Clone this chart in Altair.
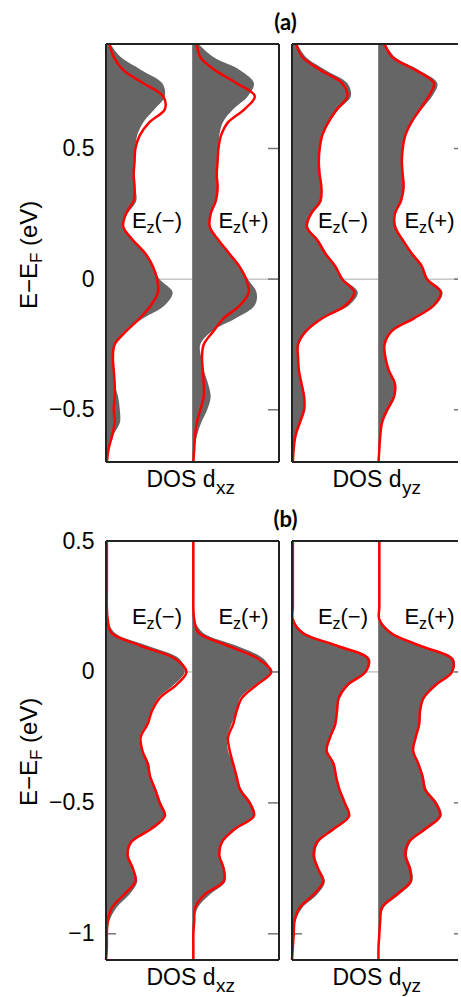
import altair as alt
import pandas as pd

FONT = "Liberation Sans"

# ---------------- energies (eV) ----------------
E_A = [0.9, 0.85, 0.8, 0.75, 0.7, 0.65, 0.6, 0.55, 0.5, 0.45, 0.4, 0.35, 0.3, 0.25, 0.2, 0.15, 0.1,
       0.05, 0.0, -0.05, -0.1, -0.15, -0.2, -0.25, -0.3, -0.35, -0.4, -0.45, -0.5, -0.55, -0.6, -0.65, -0.7]
E_B = [0.5, 0.45, 0.4, 0.35, 0.3, 0.25, 0.2, 0.15, 0.1, 0.05, 0.0, -0.05, -0.1, -0.15, -0.2, -0.25, -0.3,
       -0.35, -0.4, -0.45, -0.5, -0.55, -0.6, -0.65, -0.7, -0.75, -0.8, -0.85, -0.9, -0.95, -1.0, -1.05, -1.1]

# ---------------- (a) DOS d_xz ----------------
a_xz_minus_fill = [0.05, 0.17, 0.41, 0.65, 0.68, 0.56, 0.43, 0.36, 0.34, 0.33, 0.33, 0.34, 0.35, 0.25, 0.19, 0.31, 0.45,
                   0.54, 0.62, 0.77, 0.68, 0.43, 0.21, 0.10, 0.08, 0.09, 0.10, 0.14, 0.16, 0.16, 0.08, 0.03, 0.01]
a_xz_minus_line = [0.04, 0.09, 0.20, 0.43, 0.66, 0.68, 0.50, 0.39, 0.34, 0.33, 0.32, 0.33, 0.32, 0.23, 0.20, 0.31, 0.45,
                   0.54, 0.59, 0.60, 0.52, 0.39, 0.23, 0.10, 0.08, 0.09, 0.10, 0.10, 0.09, 0.10, 0.07, 0.03, 0.01]
a_xz_plus_fill = [0.07, 0.24, 0.55, 0.71, 0.64, 0.47, 0.35, 0.31, 0.30, 0.29, 0.29, 0.30, 0.28, 0.22, 0.20, 0.30, 0.43,
                  0.55, 0.64, 0.74, 0.72, 0.50, 0.22, 0.09, 0.10, 0.13, 0.18, 0.21, 0.17, 0.10, 0.05, 0.02, 0.01]
a_xz_plus_line = [0.05, 0.09, 0.26, 0.51, 0.72, 0.60, 0.41, 0.33, 0.30, 0.29, 0.28, 0.29, 0.27, 0.21, 0.20, 0.30, 0.42,
                  0.54, 0.62, 0.65, 0.55, 0.36, 0.24, 0.13, 0.11, 0.12, 0.13, 0.13, 0.09, 0.05, 0.03, 0.02, 0.01]
# ---------------- (a) DOS d_yz ----------------
a_yz_minus_fill = [0.06, 0.16, 0.39, 0.64, 0.68, 0.54, 0.43, 0.35, 0.32, 0.31, 0.32, 0.34, 0.34, 0.23, 0.19, 0.31, 0.40,
                   0.50, 0.60, 0.76, 0.66, 0.35, 0.16, 0.08, 0.07, 0.08, 0.12, 0.15, 0.15, 0.10, 0.05, 0.02, 0.01]
a_yz_minus_line = [0.05, 0.12, 0.33, 0.58, 0.64, 0.52, 0.42, 0.35, 0.32, 0.31, 0.32, 0.34, 0.33, 0.22, 0.17, 0.29, 0.38,
                   0.50, 0.58, 0.72, 0.62, 0.35, 0.16, 0.07, 0.07, 0.08, 0.11, 0.14, 0.14, 0.09, 0.04, 0.02, 0.01]
a_yz_plus_fill = [0.08, 0.19, 0.47, 0.68, 0.62, 0.50, 0.39, 0.31, 0.28, 0.27, 0.28, 0.29, 0.27, 0.19, 0.21, 0.29, 0.39,
                  0.50, 0.58, 0.74, 0.66, 0.43, 0.16, 0.07, 0.08, 0.12, 0.19, 0.19, 0.12, 0.04, 0.02, 0.01, 0.00]
a_yz_plus_line = [0.07, 0.16, 0.43, 0.64, 0.58, 0.48, 0.38, 0.31, 0.28, 0.27, 0.28, 0.29, 0.26, 0.19, 0.19, 0.28, 0.38,
                  0.50, 0.56, 0.72, 0.64, 0.41, 0.15, 0.07, 0.08, 0.12, 0.19, 0.18, 0.10, 0.04, 0.02, 0.01, 0.00]
# ---------------- (b) DOS d_xz ----------------
b_xz_minus_fill = [0.01, 0.01, 0.01, 0.01, 0.01, 0.01, 0.02, 0.10, 0.48, 0.85, 0.91, 0.78, 0.60, 0.52, 0.47, 0.39, 0.42,
                   0.50, 0.52, 0.58, 0.64, 0.69, 0.53, 0.30, 0.26, 0.32, 0.36, 0.27, 0.12, 0.04, 0.02, 0.01, 0.00]
b_xz_minus_line = [0.01, 0.01, 0.01, 0.01, 0.01, 0.01, 0.02, 0.06, 0.40, 0.80, 0.93, 0.81, 0.62, 0.53, 0.48, 0.40, 0.42,
                   0.48, 0.51, 0.57, 0.62, 0.68, 0.52, 0.29, 0.25, 0.31, 0.34, 0.21, 0.07, 0.02, 0.01, 0.01, 0.00]
b_xz_plus_fill = [0.01, 0.01, 0.01, 0.01, 0.01, 0.01, 0.02, 0.12, 0.51, 0.82, 0.90, 0.72, 0.55, 0.51, 0.45, 0.40, 0.41,
                  0.47, 0.51, 0.57, 0.68, 0.72, 0.51, 0.35, 0.32, 0.37, 0.38, 0.20, 0.06, 0.02, 0.01, 0.01, 0.01]
b_xz_plus_line = [0.01, 0.01, 0.01, 0.01, 0.01, 0.01, 0.02, 0.07, 0.41, 0.76, 0.91, 0.74, 0.57, 0.51, 0.47, 0.41, 0.43,
                  0.47, 0.51, 0.55, 0.66, 0.71, 0.49, 0.34, 0.31, 0.36, 0.36, 0.14, 0.03, 0.02, 0.01, 0.01, 0.01]
# ---------------- (b) DOS d_yz ----------------
b_yz_minus_fill = [0.01, 0.01, 0.01, 0.01, 0.01, 0.01, 0.02, 0.14, 0.55, 0.90, 0.86, 0.66, 0.55, 0.53, 0.51, 0.45, 0.41,
                   0.49, 0.52, 0.56, 0.62, 0.67, 0.50, 0.31, 0.27, 0.31, 0.38, 0.29, 0.12, 0.04, 0.02, 0.01, 0.00]
b_yz_minus_line = [0.01, 0.01, 0.01, 0.01, 0.01, 0.01, 0.01, 0.12, 0.52, 0.88, 0.85, 0.64, 0.54, 0.52, 0.50, 0.44, 0.40,
                   0.48, 0.51, 0.55, 0.61, 0.66, 0.48, 0.29, 0.25, 0.30, 0.36, 0.25, 0.09, 0.03, 0.02, 0.01, 0.00]
b_yz_plus_fill = [0.01, 0.01, 0.01, 0.01, 0.01, 0.01, 0.02, 0.16, 0.50, 0.87, 0.86, 0.68, 0.53, 0.49, 0.48, 0.44, 0.41,
                  0.47, 0.52, 0.56, 0.68, 0.73, 0.56, 0.37, 0.33, 0.38, 0.39, 0.24, 0.06, 0.02, 0.01, 0.00, 0.00]
b_yz_plus_line = [0.01, 0.01, 0.01, 0.01, 0.01, 0.01, 0.01, 0.14, 0.48, 0.85, 0.85, 0.66, 0.52, 0.48, 0.47, 0.43, 0.40,
                  0.46, 0.51, 0.54, 0.66, 0.71, 0.54, 0.35, 0.31, 0.36, 0.37, 0.21, 0.04, 0.02, 0.01, 0.00, 0.00]

TICKS_A = [0.5, 0.0, -0.5]
TICKS_B = [0.5, 0.0, -0.5, -1.0]
DOMAIN_A = [-0.7, 0.9]
DOMAIN_B = [-1.1, 0.5]

PANEL_W = 173      # full panel width (two sub-panels)
P2_W = 166         # visible part of the right panel
H_A, H_B = 418, 419


def one(**kw):
    return alt.Chart(pd.DataFrame({k: [v] for k, v in kw.items()} if kw else {"a": [0]}))


def txt(s, x, y, size, font=FONT, weight="normal", align="left", baseline="alphabetic", angle=0):
    return one(t=s).mark_text(font=font, fontSize=size, fontWeight=weight, align=align,
                              baseline=baseline, angle=angle, color="black").encode(
        text="t:N", x=alt.value(x), y=alt.value(y))


def panel(E, mf, ml, pf, pl, ydom, ticks, w, h, first, orb, lab_y, title=None):
    recs = []
    for sub, base, fill, line in (("minus", 0.0, mf, ml), ("plus", 1.0, pf, pl)):
        for e, f, l in zip(E, fill, line):
            recs.append({"E": e, "sub": sub, "base": base, "fill": base + f, "line": base + l})
    df = pd.DataFrame(recs).sort_values(["sub", "E"])
    xmax = 2.0 * w / PANEL_W
    xs = alt.Scale(domain=[0, xmax], nice=False, zero=False)
    ys = alt.Scale(domain=ydom, nice=False, zero=False)
    if first:
        yaxis = alt.Axis(values=ticks, format="~g", ticks=False, domain=False, grid=False, labelPadding=12,
                         labelFlush=False, labelOverlap=False, labelBound=False, title=None,
                         labelFontSize=23, labelFont=FONT, labelColor="#000000")
    else:
        yaxis = None
    Y = lambda: alt.Y("E:Q", scale=ys, axis=yaxis)
    tdf = pd.DataFrame({"E": ticks})
    layers = [
        alt.Chart(pd.DataFrame({"E": [0.0]})).mark_rule(color="#aaaaaa", strokeWidth=1).encode(
            y=Y(), x=alt.value(0), x2=alt.value(w)),
        alt.Chart(pd.DataFrame({"x": [1.0]})).mark_rule(color="#999999", strokeWidth=1).encode(
            x=alt.X("x:Q", scale=xs, axis=None), y=alt.value(0), y2=alt.value(h)),
        alt.Chart(tdf).mark_rule(color="#777777", strokeWidth=1.5).encode(
            y=Y(), x=alt.value(0), x2=alt.value(10)),
        alt.Chart(tdf).mark_rule(color="#777777", strokeWidth=1.5).encode(
            y=Y(), x=alt.value(PANEL_W - 11), x2=alt.value(min(PANEL_W, w))),
        alt.Chart(df).mark_area(orient="horizontal", color="#666666", interpolate="catmull-rom").encode(
            y=Y(), x=alt.X("fill:Q", scale=xs, axis=None), x2="base:Q", detail="sub:N"),
        alt.Chart(df).mark_line(color="#ff0000", strokeWidth=2.5, interpolate="catmull-rom").encode(
            y=Y(), x=alt.X("line:Q", scale=xs, axis=None), detail="sub:N", order="E:Q"),
        # frame
        one().mark_rule(color="#222222", strokeWidth=2).encode(x=alt.value(0), x2=alt.value(w), y=alt.value(0)),
        one().mark_rule(color="#222222", strokeWidth=2).encode(x=alt.value(0), x2=alt.value(w), y=alt.value(h)),
        one().mark_rule(color="#222222", strokeWidth=2).encode(x=alt.value(0), y=alt.value(0), y2=alt.value(h)),
    ]
    if w >= PANEL_W:
        layers.append(one().mark_rule(color="#222222", strokeWidth=2).encode(
            x=alt.value(w), y=alt.value(0), y2=alt.value(h)))
    # E_z(-) / E_z(+) labels
    for x0, sign in ((26, "(\u2212)"), (112.5, "(+)")):
        layers.append(txt("E", x0, lab_y, 22))
        layers.append(txt("z", x0 + 14.5, lab_y + 5, 16))
        layers.append(txt(sign, x0 + 22.5, lab_y, 22))
    # x label "DOS d_orb"
    cx = PANEL_W / 2
    layers.append(txt("DOS d", cx - 46, h + 25, 23))
    layers.append(txt(orb, cx + 23.5, h + 32, 19))
    if first:
        layers.append(txt("E\u2212E", -69, 265, 24, angle=270))
        layers.append(txt("F", -64, 219, 17, angle=270))
        layers.append(txt("(eV)", -69, 202, 24, angle=270))
    if title:
        layers.append(txt(title, 179.5, -21, 22, font="Lato", weight="bold", align="center", baseline="middle"))
    return alt.layer(*layers).properties(width=w, height=h)


a1 = panel(E_A, a_xz_minus_fill, a_xz_minus_line, a_xz_plus_fill, a_xz_plus_line, DOMAIN_A, TICKS_A,
           PANEL_W, H_A, True, "xz", 184, title="(a)")
a2 = panel(E_A, a_yz_minus_fill, a_yz_minus_line, a_yz_plus_fill, a_yz_plus_line, DOMAIN_A, TICKS_A,
           P2_W, H_A, False, "yz", 184)
b1 = panel(E_B, b_xz_minus_fill, b_xz_minus_line, b_xz_plus_fill, b_xz_plus_line, DOMAIN_B, TICKS_B,
           PANEL_W, H_B, True, "xz", 83, title="(b)")
b2 = panel(E_B, b_yz_minus_fill, b_yz_minus_line, b_yz_plus_fill, b_yz_plus_line, DOMAIN_B, TICKS_B,
           P2_W, H_B, False, "yz", 83)

chart = alt.concat(a1, a2, b1, b2, columns=2, bounds="flush",
                   spacing=alt.RowColnumber(row=79, column=13)).properties(
    padding={"left": 18, "top": 12, "right": 0, "bottom": 0},
    background="white",
).configure_view(stroke=None)

chart.save("out.html", embed_options={"renderer": "svg", "actions": False})
